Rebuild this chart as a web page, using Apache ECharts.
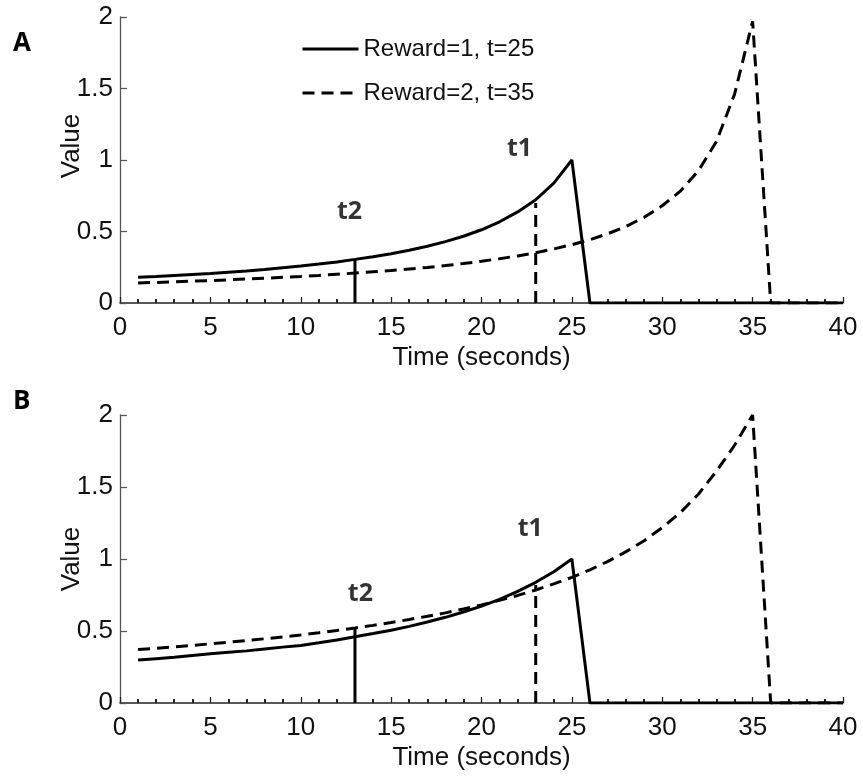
<!DOCTYPE html>
<html>
<head>
<meta charset="utf-8">
<script src="https://cdn.jsdelivr.net/npm/echarts@6/dist/echarts.min.js"></script>
<style>
  html, body { margin: 0; padding: 0; background: #fff; }
  #main { width: 863px; height: 776px; }
</style>
</head>
<body>
<div id="main"></div>
<script>
// time in seconds
let times = [1, 2, 3, 4, 5, 6, 7, 8, 9, 10, 11, 12, 13, 14, 15, 16, 17, 18, 19, 20,
             21, 22, 23, 24, 25, 26, 27, 28, 29, 30, 31, 32, 33, 34, 35, 36, 37, 38, 39, 40];

// panel A
let aReward1 = [0.180, 0.186, 0.193, 0.200, 0.206, 0.215, 0.224, 0.234, 0.246, 0.258,
                0.272, 0.287, 0.305, 0.324, 0.345, 0.369, 0.397, 0.429, 0.467, 0.512,
                0.568, 0.637, 0.722, 0.838, 1.000, 0, 0, 0, 0, 0,
                0, 0, 0, 0, 0, 0, 0, 0, 0, 0];
let aReward2 = [0.140, 0.144, 0.148, 0.153, 0.157, 0.162, 0.168, 0.173, 0.180, 0.186,
                0.193, 0.201, 0.209, 0.218, 0.227, 0.238, 0.249, 0.262, 0.276, 0.292,
                0.310, 0.329, 0.352, 0.378, 0.408, 0.443, 0.485, 0.536, 0.599, 0.680,
                0.782, 0.925, 1.130, 1.460, 1.970, 0, 0, 0, 0, 0];
// panel B
let bReward1 = [0.298, 0.308, 0.318, 0.330, 0.342, 0.352, 0.362, 0.375, 0.388, 0.400,
                0.418, 0.438, 0.460, 0.482, 0.505, 0.532, 0.562, 0.595, 0.632, 0.673,
                0.720, 0.775, 0.838, 0.912, 1.000, 0, 0, 0, 0, 0,
                0, 0, 0, 0, 0, 0, 0, 0, 0, 0];
let bReward2 = [0.371, 0.380, 0.390, 0.400, 0.411, 0.422, 0.434, 0.446, 0.459, 0.473,
                0.488, 0.504, 0.521, 0.539, 0.559, 0.580, 0.602, 0.626, 0.653, 0.681,
                0.713, 0.747, 0.785, 0.827, 0.873, 0.925, 0.984, 1.051, 1.127, 1.218,
                1.322, 1.450, 1.610, 1.790, 2.000, 0, 0, 0, 0, 0];

// t1 / t2 markers: [time, top value]
let aT2 = [13, 0.305];
let aT1 = [23, 0.70];
let bT2 = [13, 0.517];
let bT1 = [23, 0.82];

let xTicks = [0, 40, 5];
let yTicks = [0, 2, 0.5];
let legendNames = ['Reward=1, t=25', 'Reward=2, t=35'];

let zip = function (xs, ys) {
    let out = [];
    for (let i = 0; i < xs.length; i++) {
        out.push([xs[i], ys[i]]);
    }
    return out;
};
let vline = function (m) {
    return [[m[0], 0], [m[0], m[1]]];
};

let font = 'Liberation Sans, Arial, sans-serif';
let boldFont = 'Open Sans, Calibri, sans-serif';
let ink = '#111';

let makeX = function (gi) {
    return {
        type: 'value', gridIndex: gi,
        min: xTicks[0], max: xTicks[1], interval: xTicks[2],
        name: 'Time (seconds)', nameLocation: 'middle', nameGap: 42,
        nameMoveOverlap: false,
        nameTextStyle: { fontSize: 26, fontFamily: font, color: ink },
        axisLine: { show: true, onZero: false, lineStyle: { color: '#222', width: 1.5 } },
        axisTick: { show: true, inside: true, length: 6, lineStyle: { color: '#222', width: 1.3 } },
        minorTick: { show: true, splitNumber: 5, length: 4, lineStyle: { color: '#222', width: 2 } },
        axisLabel: { fontSize: 26, fontFamily: font, color: ink, margin: 12 },
        splitLine: { show: false },
        minorSplitLine: { show: false }
    };
};
let makeY = function (gi, pad) {
    return {
        type: 'value', gridIndex: gi,
        min: yTicks[0], max: yTicks[1], interval: yTicks[2],
        name: 'Value', nameLocation: 'middle', nameGap: 35,
        nameMoveOverlap: false,
        nameTextStyle: { fontSize: 26, fontFamily: font, color: ink, padding: pad },
        axisLine: { show: true, lineStyle: { color: '#555', width: 1.3 } },
        axisTick: { show: true, inside: true, length: 7, lineStyle: { color: '#555', width: 1.3 } },
        axisLabel: { fontSize: 26, fontFamily: font, color: ink, margin: 7 },
        splitLine: { show: false }
    };
};

let lineSeries = function (name, gi, data, dashed) {
    return {
        name: name, type: 'line', xAxisIndex: gi, yAxisIndex: gi,
        data: data, symbol: 'none', showSymbol: false, silent: true,
        lineStyle: { color: '#000', width: 3, type: dashed ? [12, 7] : 'solid' },
        itemStyle: { color: '#000' }
    };
};
let labelSeries = function (gi, items) {
    return {
        type: 'scatter', xAxisIndex: gi, yAxisIndex: gi,
        symbolSize: 0, silent: true,
        data: items,
        label: {
            show: true, position: 'inside',
            formatter: function (p) { return p.data.name; },
            fontSize: 25, fontWeight: 'bold', fontFamily: boldFont, color: '#000'
        }
    };
};

let myChart = echarts.init(document.getElementById('main'), null, { renderer: 'canvas' });

let option = {
    backgroundColor: '#fff',
    animation: false,
    grid: [
        { left: 120, right: 20, top: 17, height: 286 },
        { left: 120, right: 20, top: 415, height: 288 }
    ],
    xAxis: [makeX(0), makeX(1)],
    yAxis: [makeY(0, [0, 0, 0, 28]), makeY(1, 0)],
    legend: {
        data: legendNames,
        orient: 'vertical',
        left: 296, top: 29,
        itemWidth: 56, itemHeight: 20, itemGap: 14,
        selectedMode: false,
        itemStyle: { opacity: 0 },
        lineStyle: { width: 3, color: '#000' },
        textStyle: { fontSize: 24, fontFamily: font, color: ink, lineHeight: 30 }
    },
    graphic: [
        { type: 'text', left: 13, top: 31, style: { text: 'A', fontSize: 26, fontWeight: 'bold', fontFamily: boldFont, fill: '#000' } },
        { type: 'text', left: 13, top: 389, style: { text: 'B', fontSize: 26, fontWeight: 'bold', fontFamily: boldFont, fill: '#000' } }
    ],
    series: [
        lineSeries(legendNames[1], 0, zip(times, aReward2), true),
        lineSeries(legendNames[0], 0, zip(times, aReward1), false),
        lineSeries('aT2', 0, vline(aT2), false),
        lineSeries('aT1', 0, vline(aT1), true),
        labelSeries(0, [{ name: 't2', value: [12.7, 0.64] }, { name: 't1', value: [22.1, 1.08] }]),
        lineSeries(legendNames[1], 1, zip(times, bReward2), true),
        lineSeries(legendNames[0], 1, zip(times, bReward1), false),
        lineSeries('bT2', 1, vline(bT2), false),
        lineSeries('bT1', 1, vline(bT1), true),
        labelSeries(1, [{ name: 't2', value: [13.3, 0.76] }, { name: 't1', value: [22.7, 1.21] }])
    ]
};

myChart.setOption(option);
</script>
</body>
</html>
